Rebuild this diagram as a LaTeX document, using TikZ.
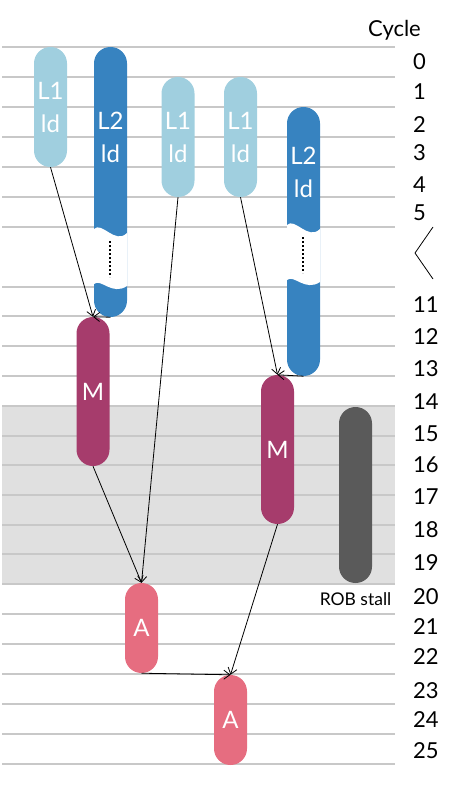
\documentclass[tikz,border=0pt]{standalone}
\usepackage{fontspec}
\setmainfont{Lato}
\usetikzlibrary{arrows.meta, positioning}
\definecolor{ldone}{HTML}{A0CFDF}
\definecolor{ldtwo}{HTML}{3783C0}
\definecolor{memop}{HTML}{A63C6C}
\definecolor{addop}{HTML}{E66D80}
\definecolor{robgray}{HTML}{5A5A5A}
\definecolor{stallshade}{HTML}{E0E0E0}
\definecolor{gridgray}{HTML}{C8C8C8}

\begin{document}
\begin{tikzpicture}[
    x=1pt, y=-1pt,
    bar/.style={rounded corners=16.4pt, minimum width=33pt, inner sep=0pt, align=center, text=white, font=\fontsize{24}{33}\selectfont},
    bartext/.style={align=center, text=white, inner sep=0pt, font=\fontsize{24}{33}\selectfont},
    cyc/.style={anchor=west, inner sep=0pt, font=\fontsize{22}{24}\selectfont},
    gridline/.style={gridgray, line width=1.2pt},
    gapdots/.style={line width=2pt, dash pattern=on 2pt off 2pt},
    arr/.style={-{Straight Barb[length=6pt, width=9pt]}, line width=0.8pt},
]
\useasboundingbox (0,0) rectangle (459,787);

% stall band and cycle grid
\fill[stallshade] (2,406) rectangle (395,584);
\foreach \y in {47,77,107,137,167,197,227,287,316,346,376,406,436,465,495,525,554,584,614,644,674,704,734,764} {
    \draw[gridline] (2,\y) -- (395,\y);
}

% loads
\node[bar, fill=ldone, minimum height=120pt] (l1a) at (50.5,107) {L1\\ld};
\node[bar, fill=ldtwo, minimum height=270pt] (l2a) at (110.5,182) {};
\node[bar, fill=ldone, minimum height=120pt] (l1c) at (178,137) {L1\\ld};
\node[bar, fill=ldone, minimum height=120pt] (l1d) at (240.5,137) {L1\\ld};
\node[bar, fill=ldtwo, minimum height=269pt] (l2b) at (303.5,241.5) {};
\node[bartext] (l2at) at (110.5,137) {L2\\ld};
\node[bartext] (l2bt) at (303.5,172) {L2\\ld};

% breaks in the long loads
\foreach \x/\ya/\yb in {94/229/284, 287/225/280} {
    \fill[white] (\x,\ya) .. controls (\x+8,\ya-8) and (\x+21,\ya+16) .. (\x+33,\ya+4)
        -- (\x+33,\yb+2) .. controls (\x+18,\yb+12) and (\x+7,\yb-6) .. (\x,\yb) -- cycle;
    \draw[gapdots] (\x+15.5,\ya+12) -- (\x+15.5,\yb-7);
}

% multiplies, adds, stall
\node[bar, fill=memop, minimum height=149pt] (m1) at (93,391.5) {M};
\node[bar, fill=memop, minimum height=149pt] (m2) at (277.5,449.5) {M};
\node[bar, fill=robgray, minimum height=176pt] (rob) at (355.5,495) {};
\node[bar, fill=addop, minimum height=90pt] (a1) at (141.5,628) {A};
\node[bar, fill=addop, minimum height=90pt] (a2) at (230.5,720) {A};
\node[below=8pt of rob, inner sep=1pt, font=\fontsize{17.5}{20}\selectfont] (robl) {ROB stall};

\foreach \a/\b in {l1a/m1, l2a/m1, l1c/a1, m1/a1, l1d/m2, l2b/m2, m2/a2, a1/a2} {
    \draw[arr] (\a.south) -- (\b.north);
}

% cycle axis
\node[anchor=base, inner sep=0pt, font=\fontsize{22}{24}\selectfont] (cyct) at (394.5,36) {Cycle};
\foreach \c/\y in {0/62, 1/92, 2/125, 3/153, 4/185, 5/213, 11/305, 12/337, 13/369, 14/402, 15/434, 16/465, 17/497, 18/530, 19/563, 20/597, 21/627, 22/657, 23/691, 24/720, 25/751} {
    \node[cyc] (c\c) at (413,\y) {\c};
}
\draw[line width=0.8pt] (433,227) -- (415,253) -- (433,279);

\end{tikzpicture}
\end{document}
